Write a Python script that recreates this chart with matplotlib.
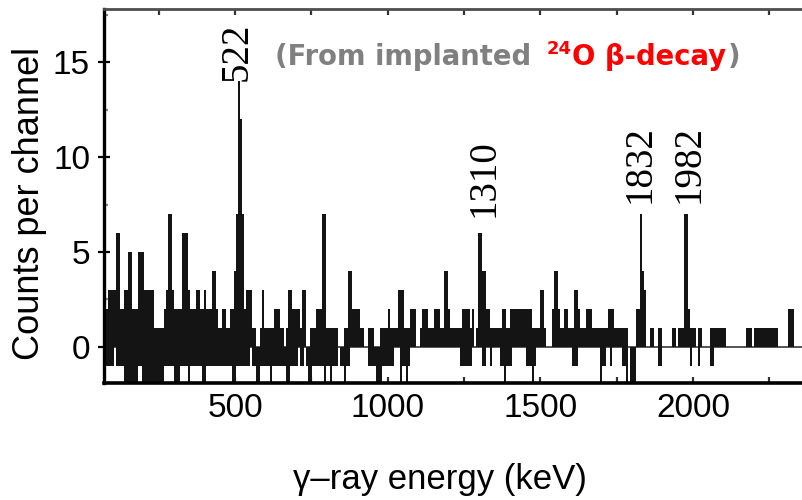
import numpy as np
import matplotlib
matplotlib.use("Agg")
import matplotlib.pyplot as plt
from matplotlib.ticker import MultipleLocator

# ---- data: spectrum (counts per channel, upper / lower extent per bin)
bin_start = 77.5   # keV, left edge of first bin
bin_width = 6.55   # keV

hi_a = [2,3,3,3,3,6,6,2,2,3, 3,5,5,2,2,2,5,5,5,3, 3,3,3,3,1,1,1,1,1,2, 3,7,7,3,2,2,2,2,6,6, 6,3,2,2,2,3,3]
lo_a = [-1,-1,-1,-1,0,-1,-1,-1,-1,-2, -2,-2,-2,-2,-2,-2,-1,-1,-2,-2, -2,-2,-2,-2,-2,-2,-2,-2,-2,-1,
        -1,-1,-1,-1,-2,-2,-2,-1,-1,-1, -1,-2,-1,-1,-1,-1,-1]
hi_b = [2,2,3,2,2,2,4,4,2,1, 1,2,2,1,1,2,2,4,7,14, 12,7,2,3,3,3,1,1,0,0, 1,3,1,1,1,1,1,2,2,2, 1,1,0,1,3,3,2,2,2,2]
lo_b = [-1,-2,-2,-1,-1,-1,-1,-1,-1,-1, -1,-1,-1,-1,-1,-1,-2,-2,-1,-1, -1,-1,-1,-1,-1,0,-1,-1,-2,-2,
        -1,-1,-1,-1,-1,-2,-1,-1,-1,-1, -1,-1,-1,-2,-2,-1,-1,-1,-1,0]
hi_c = [1,3,3,0,0,1,1,1,2,2, 2,7,7,1,1,1,1,1,1,0, 0,0,1,1,4,4,2,2,2,2, 1,1,0,0,1,1,1,0,0,0, 1,1,1,1,2,1,1,1,1,3]
lo_c = [-1,-1,0,-1,-2,-2,-1,-1,-1,-1, -1,-1,-2,-1,-1,-2,-1,-1,-1,0, -1,-1,-2,-1,-1,0,0,0,0,0,
        0,0,0,0,-1,-1,-1,-1,-2,-2, -2,-1,-1,-1,-1,-1,-1,0,0,0]
hi_d = [3,3,1,1,1,2,2,2,0,0, 1,2,2,2,1,1,1,2,2,2, 1,1,4,4,2,1,1,1,1,1, 1,2,2,2,2,1,2,0,1,6, 6,4,4,2,2,1,1,1,1,1]
lo_d = [-2,-1,-1,-2,-1,0,0,0,0,0, 0,0,0,0,0,0,0,0,0,0, 0,0,0,0,0,0,0,0,0,0,
        -1,-1,-1,-1,-1,-1,0,0,0,0, 0,-1,-1,0,0,-1,0,0,0,0]
hi_e = [1,2,2,1,1,2,2,2,2,2, 2,2,2,2,2,2,1,1,1,1, 3,3,1,0,0,0,2,4,4,2, 1,1,2,2,1,1,1,3,3,2, 1,1,1,2,2,2,1,1,1,1]
lo_e = [-1,-1,-2,-1,-1,-1,0,0,0,0, 0,0,0,-1,-1,-1,-2,-1,0,0, 0,0,0,0,0,0,0,0,0,0,
        0,0,0,0,0,0,-1,-1,-1,0, 0,0,0,0,0,0,0,0,0,0]
hi_f = [1,1,1,1,2,2,2,1,1,1, 1,1,1,1,0,0,0,0,2,2, 7,4,3,0,0,1,1,0,0,1, 1,0,0,0,0,0,1,1,0,1, 1,1,7,7,2,1,1,1,0,1]
lo_f = [-2,-1,-1,0,0,-1,0,0,0,0, 0,-1,-1,-2,0,-2,-2,-2,0,0, 0,0,0,0,0,0,0,0,0,-1,
        -1,0,0,0,0,0,0,0,0,0, 0,0,0,0,0,-1,0,0,0,-1]
hi_g = [1,0,0,0,0,1,1,1,1,1, 1,1,1,0,0,0,0,0,0,0, 0,0,0,1,1,1,0,1,1,1, 1,1,1,1,1,1,1,1,1,0, 0,0,0,0,2,2,2,0,0,0, 0]
lo_g = [0,0,0,0,0,-1,-1,0,0,0, 0,0,0,0,0,0,0,0,0,0, 0,0,0,0,0,0,0,0,0,0,
        0,0,0,0,0,0,0,0,0,0, 0,0,0,0,0,0,0,0,0,0, 0]

peak_labels = ["522", "1310", "1832", "1982"]
peak_label_pos = [(507, 15.57), (1315, 8.9), (1826, 9.65), (1987, 9.65)]

upper = np.array(hi_a + hi_b + hi_c + hi_d + hi_e + hi_f + hi_g, dtype=float)
lower = np.array(lo_a + lo_b + lo_c + lo_d + lo_e + lo_f + lo_g, dtype=float)
centers = bin_start + bin_width * (np.arange(len(upper)) + 0.5)

W, H = 802, 500
fig = plt.figure(figsize=(W / 100, H / 100), dpi=100)
ax = fig.add_axes([104 / W, 117 / H, 1 - 104 / W, (383 - 9) / H])

ax.axhline(0, color="#555555", lw=1.4, zorder=1)
ax.bar(centers, upper - lower, bottom=lower, width=bin_width * 0.7,
       color="#141414", linewidth=0, zorder=2)

ax.set_xlim(71.0, 2357.0)
ax.set_ylim(-1.92, 17.82)

ax.spines["right"].set_visible(False)
ax.spines["top"].set_color("#4d4d4d")
ax.spines["top"].set_linewidth(2.0)
ax.spines["left"].set_linewidth(2.4)
ax.spines["bottom"].set_linewidth(2.6)

ax.xaxis.set_major_locator(MultipleLocator(500))
ax.xaxis.set_minor_locator(MultipleLocator(250))
ax.yaxis.set_major_locator(MultipleLocator(5))
ax.yaxis.set_minor_locator(MultipleLocator(2.5))
ax.tick_params(axis="x", which="both", direction="in", top=True, bottom=True,
               length=4, width=1.6, color="#333333", pad=7, labelsize=24)
ax.tick_params(axis="y", which="major", direction="inout", length=8, width=1.6,
               pad=6, labelsize=24, right=False)
ax.tick_params(axis="y", which="minor", direction="in", length=3, width=1.6,
               color="#888888", right=False)
for lab in ax.get_xticklabels() + ax.get_yticklabels():
    lab.set_family("Liberation Sans")

ax.set_xlabel("\u03b3\u2013ray energy (keV)", fontsize=25, family="Liberation Sans")
ax.xaxis.set_label_coords((440 - 104) / 698, (383 - 463) / 374)
ax.set_ylabel("Counts per channel", fontsize=26, family="Liberation Sans")
ax.yaxis.set_label_coords((47 - 104) / 698, (383 - 203) / 374)

for lab, (px, py) in zip(peak_labels, peak_label_pos):
    ax.text(px, py, lab, rotation=90, ha="center", va="center",
            fontsize=28, family="Liberation Serif", color="black")

# multi-coloured annotation
renderer = fig.canvas.get_renderer()
base_y = 1 - 65 / H
fs = 19.8
gray = "#808080"
red = "#ff0000"
t1 = fig.text(275 / W, base_y, "(From implanted", color=gray, fontsize=fs,
              fontweight="bold", family="DejaVu Sans", va="baseline", ha="left")
x1 = t1.get_window_extent(renderer).x1 + 15
t2 = fig.text(x1 / W, base_y + 11 / H, "24", color=red, fontsize=13,
              fontweight="bold", family="DejaVu Sans", va="baseline", ha="left")
x2 = t2.get_window_extent(renderer).x1 + 1
t3 = fig.text(x2 / W, base_y, "O \u03b2-decay", color=red, fontsize=fs,
              fontweight="bold", family="DejaVu Sans", va="baseline", ha="left")
x3 = t3.get_window_extent(renderer).x1 + 2
fig.text(x3 / W, base_y, ")", color=gray, fontsize=fs,
         fontweight="bold", family="DejaVu Sans", va="baseline", ha="left")

fig.savefig("out.png", dpi=100)
